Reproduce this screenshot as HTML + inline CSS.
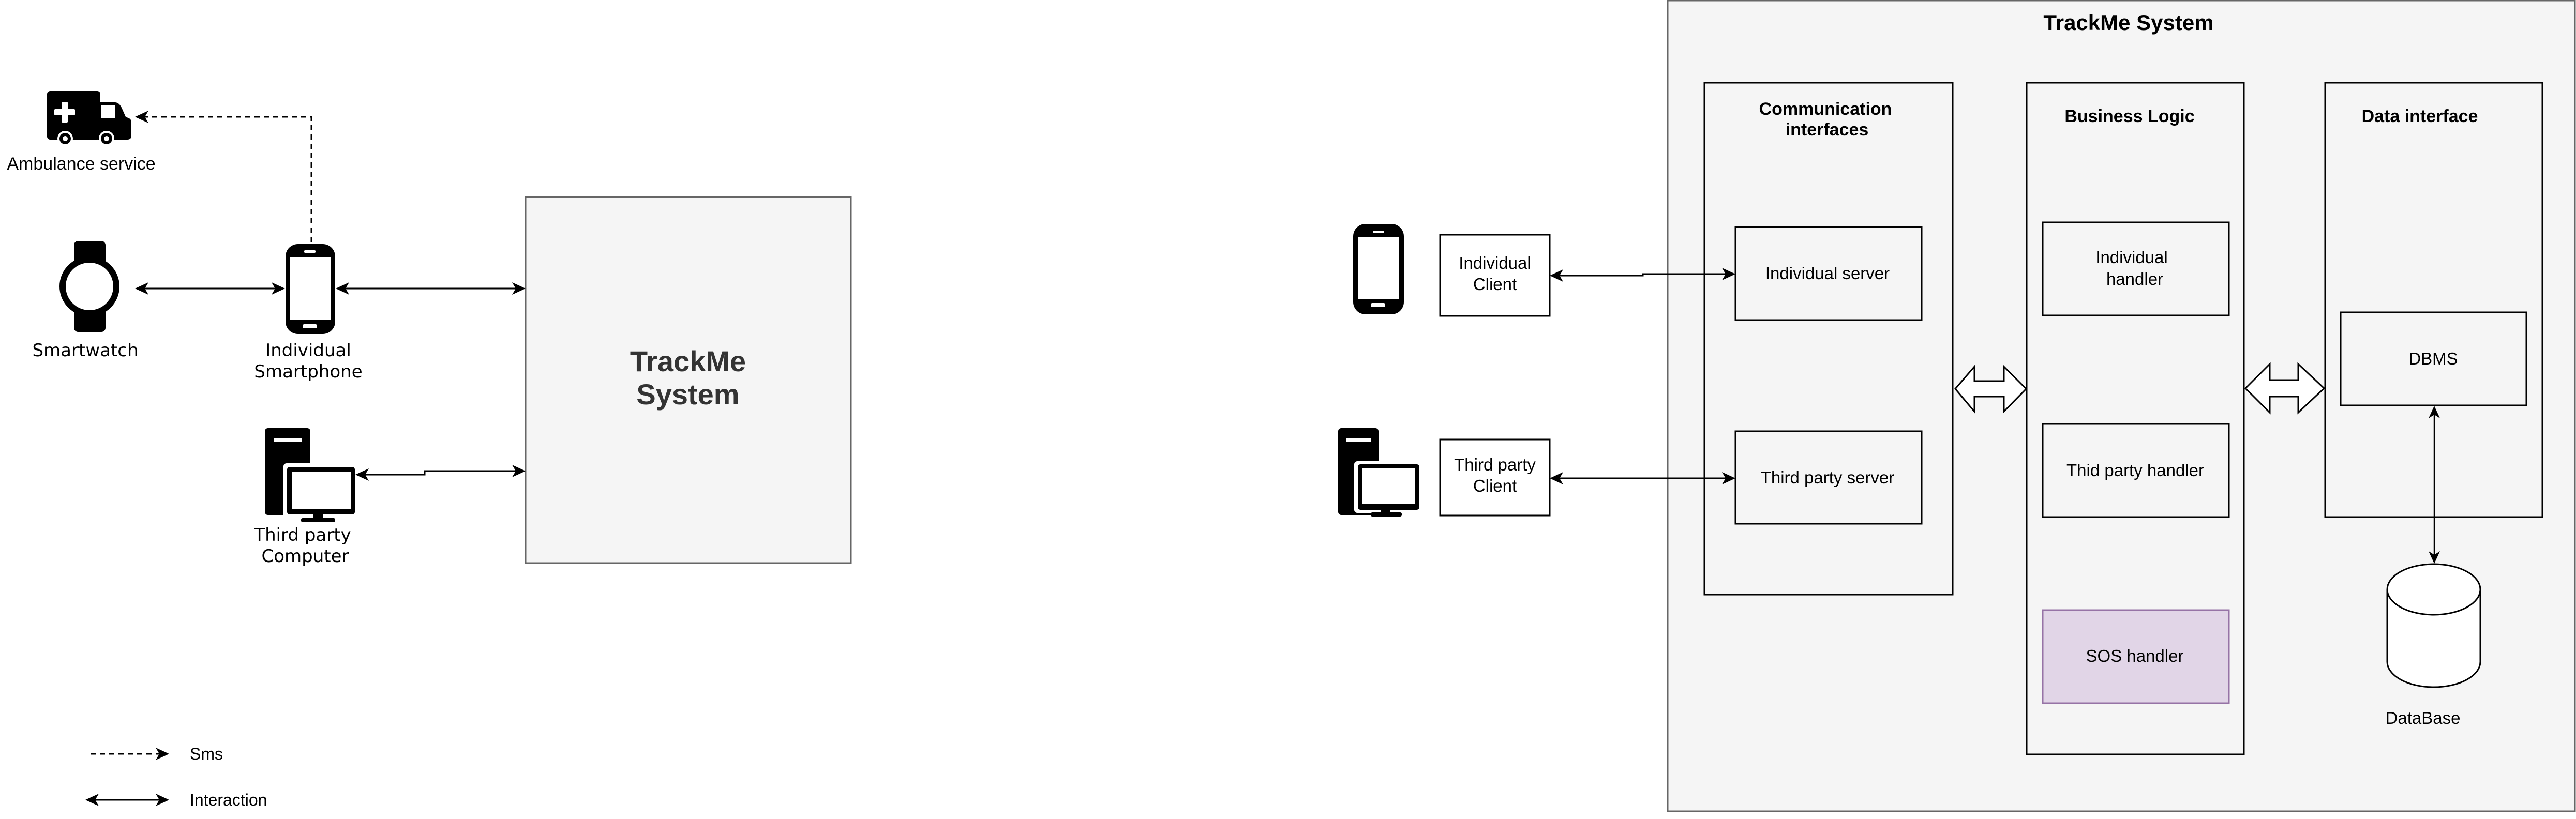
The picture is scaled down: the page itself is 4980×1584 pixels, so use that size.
<!DOCTYPE html>
<html><head><meta charset="utf-8"><style>
html,body{margin:0;padding:0;background:#fff;}
svg{display:block;}
text{font-family:"Liberation Sans",Arial,sans-serif;}
.dv{font-family:"DejaVu Sans","Liberation Sans",sans-serif;}
</style></head><body>
<svg width="4980" height="1584" viewBox="0 0 4980 1584" xmlns="http://www.w3.org/2000/svg">
<defs>
<marker id="ah" markerWidth="10" markerHeight="10" refX="9" refY="5" orient="auto-start-reverse" markerUnits="userSpaceOnUse" viewBox="0 0 10 10">
</marker>
</defs>
<!-- LEFT: big system box -->
<rect x="1016" y="381" width="629" height="708" fill="#f5f5f5" stroke="#666" stroke-width="3"/>
<text x="1330" y="718" font-size="56" font-weight="bold" fill="#333" text-anchor="middle">TrackMe</text>
<text x="1330" y="782" font-size="56" font-weight="bold" fill="#333" text-anchor="middle">System</text>

<!-- ambulance -->
<g fill="#000">
<rect x="91" y="176" width="103" height="94" rx="6"/>
<path d="M190 198 H222 Q230 198 235 208 L243 226 L250 229 Q254 231 254 238 V262 Q254 270 246 270 H190 Z"/>
<rect x="195" y="204" width="28" height="24" fill="#fff"/>
<rect x="119" y="197" width="12" height="40" fill="#fff" rx="2"/>
<rect x="105" y="211" width="40" height="12" fill="#fff" rx="2"/>
<circle cx="126" cy="268" r="15" fill="#fff"/><circle cx="126" cy="268" r="11"/><circle cx="126" cy="268" r="5" fill="#fff"/>
<circle cx="206" cy="268" r="15" fill="#fff"/><circle cx="206" cy="268" r="11"/><circle cx="206" cy="268" r="5" fill="#fff"/>
</g>
<text x="157" y="328" font-size="34" text-anchor="middle">Ambulance service</text>

<!-- smartwatch -->
<g>
<rect x="143" y="466" width="61" height="176" rx="8" fill="#000"/>
<circle cx="173" cy="554" r="58" fill="#000"/>
<circle cx="173" cy="554" r="46" fill="#fff"/>
</g>
<text x="165" y="689" font-size="34" text-anchor="middle" class="dv">Smartwatch</text>

<!-- phone -->
<g>
<rect x="552" y="472" width="96" height="174" rx="24" fill="#000"/>
<rect x="560" y="498" width="80" height="120" fill="#fff"/>
<rect x="588" y="484" width="22" height="5" rx="2" fill="#fff"/>
<rect x="585" y="627" width="28" height="8" rx="3" fill="#fff"/>
</g>
<text x="596" y="689" font-size="34" text-anchor="middle" class="dv">Individual</text>
<text x="596" y="730" font-size="34" text-anchor="middle" class="dv">Smartphone</text>

<!-- computer -->
<g>
<rect x="512" y="828" width="88" height="168" rx="6" fill="#000"/>
<rect x="530" y="848" width="54" height="7" fill="#fff"/>
<rect x="548" y="896" width="140" height="106" rx="6" fill="#fff"/>
<rect x="555" y="903" width="131" height="92" rx="5" fill="#000"/>
<rect x="564" y="912" width="114" height="72" fill="#fff"/>
<rect x="605" y="995" width="20" height="10" fill="#000"/>
<rect x="582" y="1002" width="66" height="8" rx="3" fill="#000"/>
</g>
<text x="585" y="1046" font-size="34" text-anchor="middle" class="dv">Third party</text>
<text x="590" y="1087" font-size="34" text-anchor="middle" class="dv">Computer</text>

<!-- left connectors -->
<g stroke="#000" stroke-width="3" fill="none">
<path d="M602 468 V226 H270" stroke-dasharray="10 8"/>
<path d="M272 558 H540"/>
<path d="M662 558 H1003"/>
<path d="M700 918 H821 V911 H1003"/>
</g>
<g fill="#000">
<path d="M261 226 L287 214 L280 226 L287 238 Z"/>
<path d="M261 558 L287 546 L280 558 L287 570 Z"/>
<path d="M551 558 L525 546 L532 558 L525 570 Z"/>
<path d="M649 558 L675 546 L668 558 L675 570 Z"/>
<path d="M1016 558 L990 546 L997 558 L990 570 Z"/>
<path d="M687 918 L713 906 L706 918 L713 930 Z"/>
<path d="M1016 911 L990 899 L997 911 L990 923 Z"/>
</g>

<!-- legend -->
<g stroke="#000" stroke-width="3" fill="none">
<path d="M175 1458 H315" stroke-dasharray="10 8"/>
<path d="M175 1547 H315"/>
</g>
<g fill="#000">
<path d="M327 1458 L301 1446 L308 1458 L301 1470 Z"/>
<path d="M327 1547 L301 1535 L308 1547 L301 1559 Z"/>
<path d="M165 1547 L191 1535 L184 1547 L191 1559 Z"/>
</g>
<text x="367" y="1469" font-size="32">Sms</text>
<text x="367" y="1558" font-size="32">Interaction</text>

<!-- RIGHT -->
<rect x="3224" y="1" width="1754" height="1568" fill="#f5f5f5" stroke="#666" stroke-width="3"/>
<text x="4115" y="58" font-size="42" font-weight="bold" text-anchor="middle">TrackMe System</text>

<!-- phone icon right -->
<g>
<rect x="2616" y="433" width="98" height="175" rx="24" fill="#000"/>
<rect x="2625" y="458" width="80" height="120" fill="#fff"/>
<rect x="2654" y="446" width="22" height="5" rx="2" fill="#fff"/>
<rect x="2650" y="586" width="28" height="8" rx="3" fill="#fff"/>
</g>
<!-- computer icon right -->
<g>
<rect x="2587" y="828" width="78" height="168" rx="6" fill="#000"/>
<rect x="2603" y="848" width="48" height="7" fill="#fff"/>
<rect x="2618" y="892" width="127" height="100" rx="6" fill="#fff"/>
<rect x="2625" y="898" width="119" height="88" rx="5" fill="#000"/>
<rect x="2633" y="905" width="103" height="70" fill="#fff"/>
<rect x="2670" y="985" width="18" height="10" fill="#000"/>
<rect x="2650" y="991" width="60" height="8" rx="3" fill="#000"/>
</g>

<g fill="#fff" stroke="#000" stroke-width="3">
<rect x="2784" y="454" width="212" height="157"/>
<rect x="2784" y="850" width="212" height="147"/>
</g>
<text x="2890" y="520" font-size="33" text-anchor="middle">Individual</text>
<text x="2890" y="561" font-size="33" text-anchor="middle">Client</text>
<text x="2890" y="910" font-size="33" text-anchor="middle">Third party</text>
<text x="2890" y="951" font-size="33" text-anchor="middle">Client</text>

<g fill="#f5f5f5" stroke="#000" stroke-width="3">
<rect x="3295" y="160" width="480" height="990"/>
<rect x="3918" y="160" width="420" height="1299"/>
<rect x="4495" y="160" width="420" height="840"/>
<rect x="3355" y="439" width="360" height="180"/>
<rect x="3355" y="834" width="360" height="179"/>
<rect x="3949" y="430" width="360" height="180"/>
<rect x="3949" y="820" width="360" height="180"/>
<rect x="4525" y="604" width="359" height="180"/>
</g>
<rect x="3949" y="1180" width="360" height="180" fill="#e1d5e7" stroke="#9673a6" stroke-width="3"/>

<g font-size="34" font-weight="bold" text-anchor="middle">
<text x="3529" y="222">Communication</text>
<text x="3532" y="262">interfaces</text>
<text x="4117" y="236">Business Logic</text>
<text x="4678" y="236">Data interface</text>
</g>
<g font-size="33" text-anchor="middle">
<text x="3533" y="540">Individual server</text>
<text x="3533" y="935">Third party server</text>
<text x="4121" y="509">Individual</text>
<text x="4127" y="551">handler</text>
<text x="4128" y="921">Thid party handler</text>
<text x="4127" y="1280">SOS handler</text>
<text x="4704" y="705">DBMS</text>
<text x="4684" y="1400">DataBase</text>
</g>

<!-- database cylinder -->
<path d="M4615 1140 V1280 A90 49 0 0 0 4795 1280 V1140 A90 49 0 0 0 4615 1140 A90 49 0 0 0 4795 1140" fill="#fff" stroke="#000" stroke-width="3"/>

<!-- block arrows -->
<path d="M3780 752 L3817 709 V737 H3874 V709 L3917 752 L3874 796 V767 H3817 V796 Z" fill="#fff" stroke="#000" stroke-width="3"/>
<path d="M4341 751 L4388 704 V735 H4443 V704 L4493 751 L4443 798 V767 H4388 V798 Z" fill="#fff" stroke="#000" stroke-width="3"/>

<!-- right connectors -->
<g stroke="#000" stroke-width="3" fill="none">
<path d="M3008 533 H3176 V530 H3343"/>
<path d="M3008 925 H3343"/>
<path d="M4706 797 V1077" stroke-width="2.5"/>
</g>
<g fill="#000">
<path d="M2996 533 L3022 521 L3015 533 L3022 545 Z"/>
<path d="M3355 530 L3329 518 L3336 530 L3329 542 Z"/>
<path d="M2996 925 L3022 913 L3015 925 L3022 937 Z"/>
<path d="M3355 925 L3329 913 L3336 925 L3329 937 Z"/>
<path d="M4706 785 L4695 809 L4706 802 L4717 809 Z"/>
<path d="M4706 1090 L4695 1066 L4706 1073 L4717 1066 Z"/>
</g>
</svg>
</body></html>
